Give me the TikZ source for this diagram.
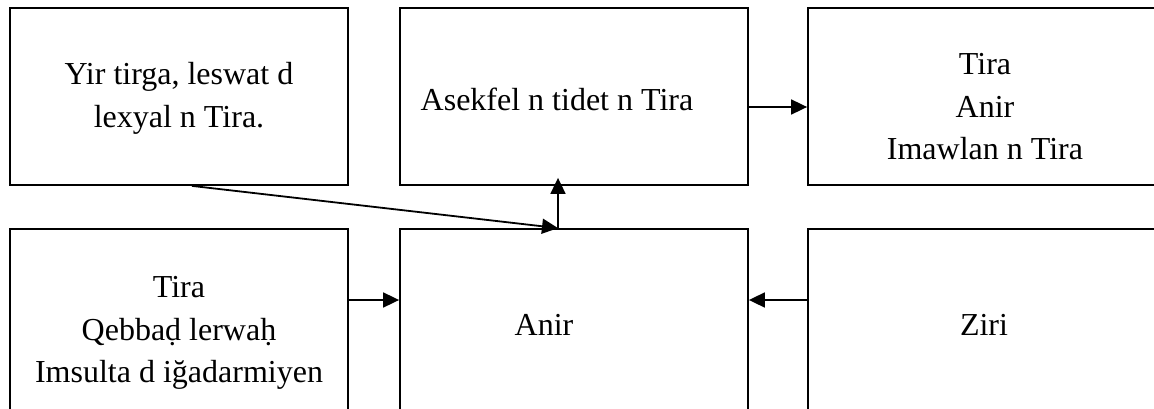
\documentclass[tikz,border=0pt]{standalone}
\usepackage{fontspec}
\setmainfont{Liberation Serif}
\usetikzlibrary{arrows.meta}
\begin{document}
\begin{tikzpicture}[x=1pt,y=-1pt,
  box/.style={draw=black,line width=1.8pt,rectangle,inner sep=0pt,minimum width=#1},
  topbox/.style={box=#1,minimum height=177pt},
  botbox/.style={box=#1,minimum height=200pt},
  txt/.style={inner sep=0pt,align=center,font=\fontsize{32}{42.5}\selectfont},
  arr/.style={line width=1.8pt,-{Triangle[length=16pt,width=15pt]}}]
\clip (0,0) rectangle (1154,409);
\fill[white] (0,0) rectangle (1154,409);
% boxes
\node[topbox=338pt] (tl) at (179,96.5) {};
\node[topbox=348pt] (tm) at (574,96.5) {};
\node[topbox=354pt] (tr) at (985,96.5) {};
\node[botbox=338pt] (bl) at (179,329) {};
\node[botbox=348pt] (bm) at (574,329) {};
\node[botbox=354pt] (br) at (985,329) {};
% texts
\node[txt] (tlt) at (179,98.5) {Yir tirga, leswat d\\lexyal n Tira.};
\node[txt,anchor=base] (tmt) at (557,111) {Asekfel n tidet n Tira};
\node[txt] (trt) at (985,106.75) {Tira\\Anir\\Imawlan n Tira};
\node[txt] (blt) at (179,333) {Tira\\Qebbaḍ lerwaḥ\\Imsulta d iğadarmiyen};
\node[txt,anchor=base] (bmt) at (544,335) {Anir};
\node[txt,anchor=base] (brt) at (984,335) {Ziri};
% connectors
\coordinate (j) at ([xshift=-16pt]bm.north);
\draw[arr] ([xshift=13pt]tl.south) -- (j);
\draw[arr] (j) -- ([yshift=8pt]tm.south -| j);
\draw[arr] ([yshift=-10.5pt]tm.east) -- ([yshift=-10.5pt]tr.west);
\draw[arr] ([yshift=29pt]bl.east) -- ([yshift=29pt]bm.west);
\draw[arr] ([yshift=29pt]br.west) -- ([yshift=29pt]bm.east);
\end{tikzpicture}
\end{document}
